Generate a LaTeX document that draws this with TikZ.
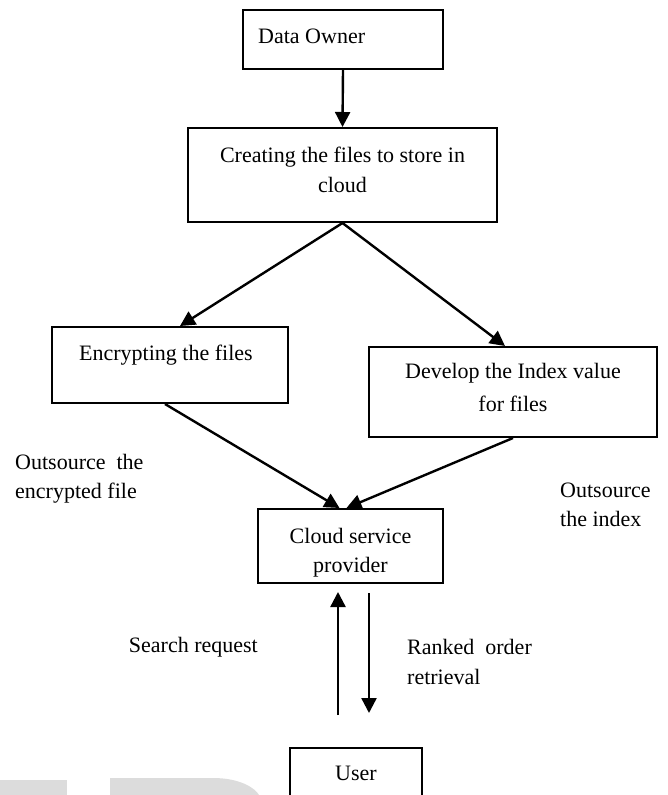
\documentclass[tikz,border=0pt]{standalone}
\usepackage{fontspec}
\setmainfont{Liberation Serif}
\usetikzlibrary{arrows.meta}
\definecolor{wm}{HTML}{DCDCDC}
\begin{document}
\begin{tikzpicture}[x=1pt,y=-1pt,
  box/.style={draw, rectangle, inner sep=0pt, line width=2pt},
  lbl/.style={font=\fontsize{22}{30}\selectfont, inner sep=0pt, anchor=base},
  arr/.style={-{Triangle[length=15pt,width=15pt]}, line width=2.4pt}]
\clip (0,0) rectangle (668,795);
\fill[white] (0,0) rectangle (668,795);
% watermark shapes
\fill[wm] (0,780) rectangle (67,795);
\fill[wm] (110,778) -- (213,778) .. controls (240,778) and (255,788) .. (259,795) -- (110,795) -- cycle;
% boxes
\node[box, minimum width=200pt, minimum height=59pt] (owner) at (343,39.5) {};
\node[box, minimum width=309pt, minimum height=94pt] (create) at (342.5,175) {};
\node[box, minimum width=236pt, minimum height=76pt] (enc) at (170,365) {};
\node[box, minimum width=288pt, minimum height=90pt] (dev) at (513,392) {};
\node[box, minimum width=185pt, minimum height=74pt] (cloud) at (350.5,546) {};
\node[box, minimum width=132pt, minimum height=80pt] (user) at (356,788) {};
% texts
\node[lbl, anchor=base west] (tOwner) at (258,43) {Data Owner};
\node[lbl] (tCreate1) at (342.5,162) {Creating the files to store in};
\node[lbl] (tCreate2) at (342.5,192) {cloud};
\node[lbl, anchor=base west] (tEnc) at (79,360) {Encrypting the files};
\node[lbl] (tDev1) at (513,378) {Develop the Index value};
\node[lbl] (tDev2) at (513,411) {for files};
\node[lbl] (tCloud1) at (350.5,543) {Cloud service};
\node[lbl] (tCloud2) at (350.5,572) {provider};
\node[lbl] (tUser) at (356,780) {User};
\node[lbl, anchor=base west] (tOut1a) at (15,469) {Outsource\ \ the};
\node[lbl, anchor=base west] (tOut1b) at (15,498) {encrypted file};
\node[lbl, anchor=base west] (tOut2a) at (560,497) {Outsource};
\node[lbl, anchor=base west] (tOut2b) at (560,526) {the index};
\node[lbl, anchor=base east] (tSearch) at (258,652) {Search request};
\node[lbl, anchor=base west] (tRank1) at (407,654) {Ranked\ \ order};
\node[lbl, anchor=base west] (tRank2) at (407,684) {retrieval};
% connectors
\draw[arr] (owner.south) -- (create.north);
\draw[arr] (create.south) -- ([xshift=10pt]enc.north);
\draw[arr] (create.south) -- ([xshift=-8pt]dev.north);
\draw[arr] ([xshift=-5pt]enc.south) -- ([xshift=-11pt]cloud.north);
\draw[arr] (dev.south) -- ([xshift=-4pt]cloud.north);
\coordinate (upStart) at (338,715);
\coordinate (downEnd) at (369,713);
\draw[arr] (upStart) -- ([xshift=-12.5pt,yshift=-8pt]cloud.south);
\draw[arr] ([xshift=18.5pt,yshift=-9pt]cloud.south) -- (downEnd);
\end{tikzpicture}
\end{document}
